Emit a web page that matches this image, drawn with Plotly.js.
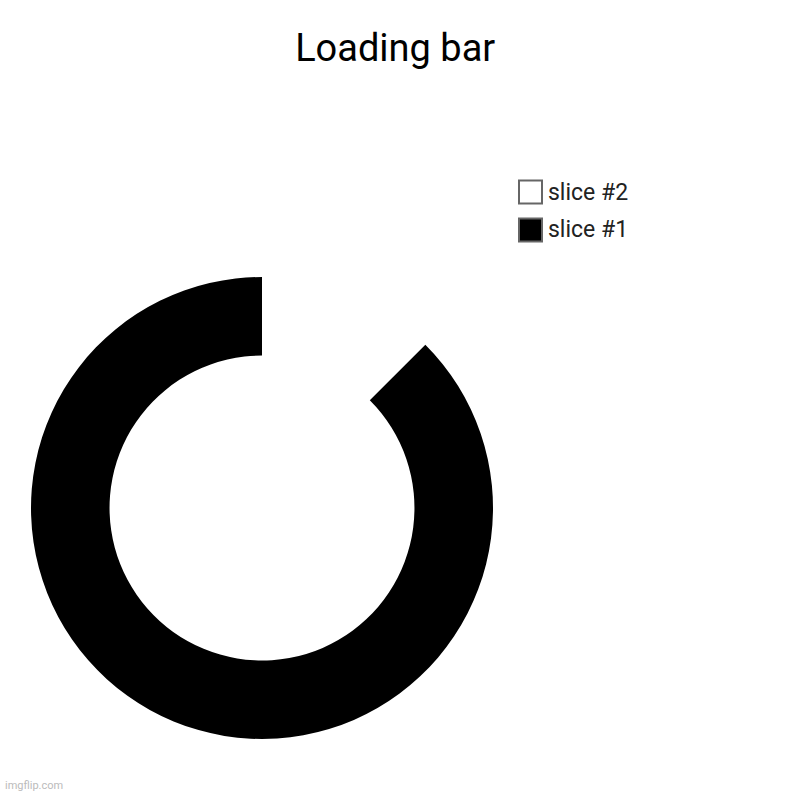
<!DOCTYPE html>
<html>
<head>
<meta charset="utf-8">
<script src="https://cdn.plot.ly/plotly-3.0.1.min.js"></script>
<style>html,body{margin:0;padding:0;background:#fff;}#chart{width:800px;height:800px;}</style>
</head>
<body>
<div id="chart"></div>
<script>
const labels = ["slice #2", "slice #1"];
const values = [12.5, 87.5];
const colors = ["#ffffff", "#000000"];

const trace = {
  type: "pie",
  labels: labels,
  values: values,
  sort: false,
  direction: "clockwise",
  rotation: 0,
  hole: 0.66,
  textinfo: "none",
  hoverinfo: "label+percent",
  showlegend: false,
  marker: { colors: colors, line: { color: "#666666", width: 0 } },
  domain: { x: [0.03875, 0.61625], y: [0.07625, 0.65375] }
};

// custom legend (larger swatches like the reference)
const W = 800, H = 800;
const legX = 519, legTop = 192, legStep = 38, sw = 23;
const shapes = [];
const annotations = [];
labels.forEach((lab, i) => {
  const cy = legTop + i * legStep;
  shapes.push({
    type: "rect", xref: "paper", yref: "paper",
    x0: legX / W, x1: (legX + sw) / W,
    y0: 1 - (cy + sw / 2) / H, y1: 1 - (cy - sw / 2) / H,
    fillcolor: colors[i], line: { color: "#666666", width: 2 }
  });
  annotations.push({
    text: lab, xref: "paper", yref: "paper",
    x: (legX + sw + 4) / W, y: 1 - cy / H,
    xanchor: "left", yanchor: "middle", showarrow: false,
    font: { size: 23, color: "#222222", family: "Roboto, sans-serif" }
  });
});
annotations.push({ text: "imgflip.com", x: 0.004, y: 0.008, xref: "paper", yref: "paper", xanchor: "left", yanchor: "bottom", showarrow: false, font: { size: 11, color: "#bbbbbb", family: "Roboto, sans-serif" } });

const layout = {
  width: 800,
  height: 800,
  margin: { l: 0, r: 0, t: 0, b: 0 },
  paper_bgcolor: "#ffffff",
  font: { family: "Roboto, sans-serif", color: "#000" },
  title: { text: "Loading bar", font: { size: 38, family: "Roboto, sans-serif", color: "#000" }, x: 0.494, xanchor: "center", y: 0.941, yanchor: "middle" },
  showlegend: false,
  shapes: shapes,
  annotations: annotations
};

Plotly.newPlot("chart", [trace], layout, { displayModeBar: false });
</script>
</body>
</html>
